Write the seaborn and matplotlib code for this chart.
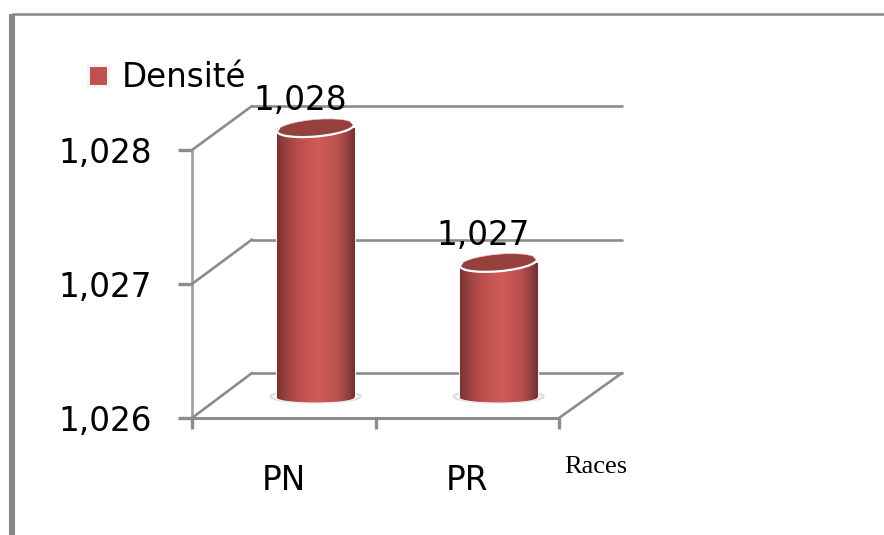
import numpy as np
import seaborn as sns
import matplotlib.pyplot as plt
from matplotlib.colors import LinearSegmentedColormap
from matplotlib.patches import Arc, Ellipse, Rectangle
from matplotlib.transforms import IdentityTransform

races = ["PN", "PR"]
densite = [1.028, 1.027]
y_ticks = [1.026, 1.027, 1.028]
y_labels = ["1,026", "1,027", "1,028"]
value_labels = ["1,028", "1,027"]

W, H = 884, 535
GREY = "#8c8c8c"
RED = "#c0504d"
FONT = 23.5
shade = LinearSegmentedColormap.from_list(
    "cyl",
    [(0, "#7a3331"), (0.12, "#9a4341"), (0.3, "#c0504d"), (0.55, "#d05b59"),
     (0.8, "#b84f4c"), (0.92, "#8f3f3d"), (1, "#713230")],
)


def axes_px(left, right, top, bottom):
    # axes from pixel edges, y counted from the top of the image
    ax = fig.add_axes([left / W, 1 - bottom / H, (right - left) / W, (bottom - top) / H])
    ax.patch.set_visible(False)
    return ax


def fill_cylinder(ax, bar, clip, ymin, ymax):
    im = ax.imshow(
        np.linspace(0, 1, 128)[None, :],
        extent=(bar.get_x(), bar.get_x() + bar.get_width(), ymin, ymax),
        aspect="auto", cmap=shade, zorder=3,
    )
    im.set_clip_box(fig.bbox)
    im.set_clip_path(clip)


sns.set_style("white")
plt.rcParams["font.family"] = ["DejaVu Sans"]
plt.rcParams["text.color"] = "black"
plt.rcParams["xtick.labelcolor"] = "black"
plt.rcParams["ytick.labelcolor"] = "black"

fig = plt.figure(figsize=(W / 100, H / 100), dpi=100)

# outer picture frame
frame = axes_px(12, W + 5, 14, H + 5)
frame.set_xticks([])
frame.set_yticks([])
for side in ["right", "bottom"]:
    frame.spines[side].set_visible(False)
frame.spines["left"].set(color="#868686", linewidth=4.4, capstyle="butt")
frame.spines["top"].set(color="#868686", linewidth=1.8, capstyle="butt")

# back wall
back = axes_px(252, 622, 106, 373)
back.set_ylim(y_ticks[0], y_ticks[-1])
back.set_xticks([])
back.set_yticks(y_ticks)
back.set_yticklabels([])
back.tick_params(left=False)
back.grid(axis="y", color=GREY, linewidth=1.9, clip_on=False)
sns.despine(ax=back, left=True, bottom=True)

# front plane with the axes
front = axes_px(192, 559, 150, 418)
front.set_ylim(y_ticks[0], y_ticks[-1])
front.set_xlim(-0.5, 1.5)
front.set_yticks(y_ticks, y_labels, fontsize=FONT)
front.set_xticks([-0.5, 0.5, 1.5], ["", "", ""])
front.set_xticks(range(len(races)), races, minor=True, fontsize=FONT)
front.tick_params(axis="y", length=10, width=2.4, color=GREY, pad=19, left=True)
front.tick_params(axis="x", which="major", length=8, width=2.4, color=GREY, bottom=True)
front.tick_params(axis="x", which="minor", length=0, pad=33)
sns.despine(ax=front)
front.spines["left"].set(color="#a0a0a0", linewidth=1.9)
front.spines["bottom"].set(color=GREY, linewidth=2.2)

# side wall and floor edges joining front and back
for frac in [0, 0.5, 1]:
    p0 = front.transAxes.transform((0, frac))
    p1 = back.transAxes.transform((0, frac))
    fig.add_artist(plt.Line2D([p0[0], p1[0]], [p0[1], p1[1]], color=GREY,
                              linewidth=1.9, transform=IdentityTransform()))
p0 = front.transAxes.transform((1, 0))
p1 = back.transAxes.transform((1, 0))
fig.add_artist(plt.Line2D([p0[0], p1[0]], [p0[1], p1[1]], color=GREY,
                          linewidth=1.9, transform=IdentityTransform()))

# bars sit half way into the depth of the chart
bars_ax = axes_px(224, 590, 128, 397.5)
sns.barplot(
    x=races, y=densite, ax=bars_ax, width=0.426, color=RED, saturation=1,
    edgecolor="#f4f4f4", linewidth=2.2, label="Densité", zorder=2,
)
bars_ax.set_xlim(-0.5, 1.5)
bars_ax.set_ylim(y_ticks[0], y_ticks[-1])
bars_ax.set_xticks([])
bars_ax.set_yticks([])
sns.despine(ax=bars_ax, left=True, bottom=True)

px_per_val = bars_ax.transData.transform((0, y_ticks[1]))[1] - bars_ax.transData.transform((0, y_ticks[0]))[1]
for bar, label in zip(bars_ax.patches, value_labels):
    top_val = bar.get_height()
    cx = bar.get_x() + bar.get_width() / 2
    base_xy = bars_ax.transData.transform((cx, y_ticks[0]))
    top_xy = bars_ax.transData.transform((cx, top_val))

    # floor shadow, then the round foot of the cylinder
    shadow = Ellipse(base_xy + (0, 1), 90, 12, facecolor="white", edgecolor="#dedede",
                     linewidth=1.6, transform=IdentityTransform(), zorder=1)
    bars_ax.add_patch(shadow)
    shadow.set_clip_on(False)
    foot = Ellipse(base_xy, 78, 10, facecolor=RED, transform=IdentityTransform(), zorder=2)
    bars_ax.add_patch(foot)
    foot.set_clip_on(False)
    fill_cylinder(bars_ax, bar, foot, y_ticks[0] - 8 / px_per_val * 0.001, y_ticks[0] + 0.0001)

    body = Rectangle((bar.get_x(), y_ticks[0]), bar.get_width(), top_val - y_ticks[0],
                     transform=bars_ax.transData, fill=False, linewidth=0)
    fill_cylinder(bars_ax, bar, body, y_ticks[0], top_val)

    # lid with the pale rim along its lower edge
    lid = Ellipse(top_xy, 77, 17, angle=5, facecolor="#96403e", edgecolor="#e9c9c8", linewidth=0.5,
                  transform=IdentityTransform(), zorder=4)
    bars_ax.add_patch(lid)
    lid.set_clip_on(False)
    rim = Arc(top_xy, 77, 17, angle=5, theta1=175, theta2=365, color="white", linewidth=1.6,
              transform=IdentityTransform(), zorder=4.5)
    bars_ax.add_patch(rim)
    rim.set_clip_on(False)

    bars_ax.annotate(label, (cx, top_val), xytext=(-11, 13), textcoords="offset points",
                     ha="center", va="baseline", fontsize=FONT, color="black",
                     annotation_clip=False, zorder=5)

bars_ax.legend(
    loc="lower left", bbox_to_anchor=(88 / W, 1 - 94 / H), bbox_transform=fig.transFigure,
    frameon=False, fontsize=FONT, handlelength=0.6, handleheight=0.62, handletextpad=0.42,
    borderpad=0, borderaxespad=0, labelcolor="black",
)

fig.text(564 / W, 1 - 473 / H, "Races", family="Liberation Serif", fontsize=19, va="baseline")

plt.savefig("out.png", dpi=100)
